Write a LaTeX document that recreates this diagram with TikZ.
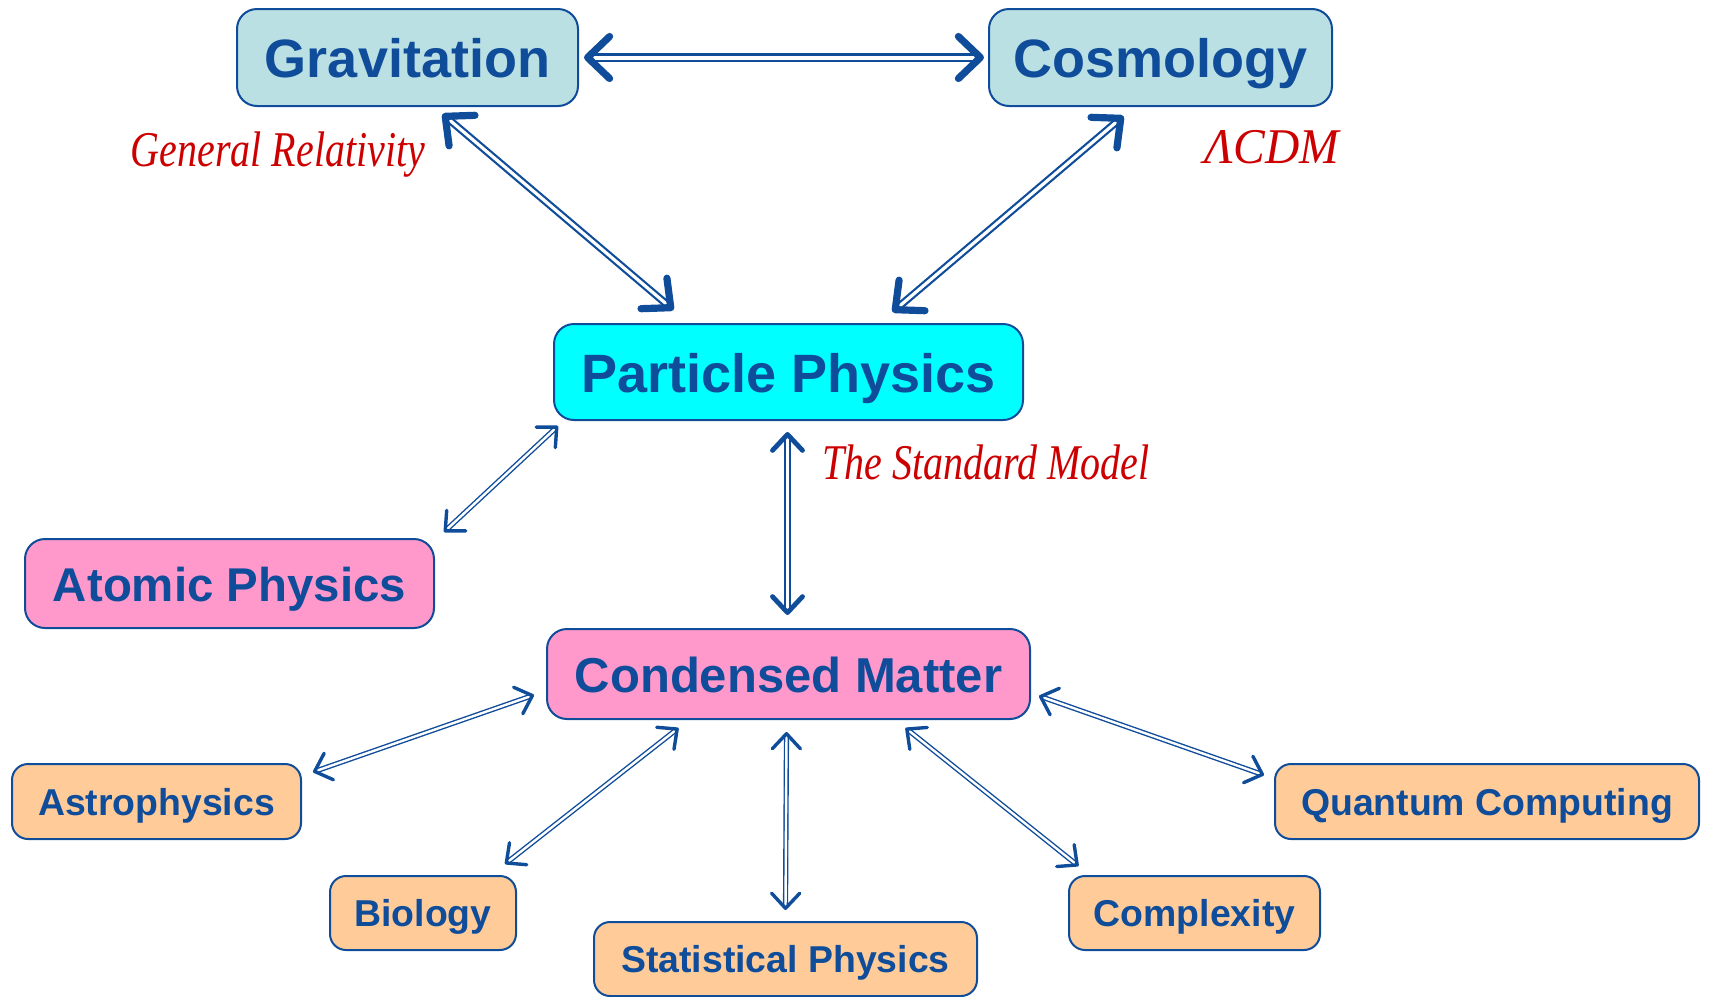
\documentclass[tikz,border=0pt]{standalone}
\usepackage{fontspec}
\setmainfont{Liberation Sans}
\newfontfamily\redfont[FakeStretch=0.8]{Liberation Serif}
\newfontfamily\redwidefont[FakeStretch=0.95]{Liberation Serif}
\usetikzlibrary{arrows.meta,calc}
\definecolor{dblue}{HTML}{0F4C9A}
\definecolor{lblue}{HTML}{BAE0E4}
\definecolor{pcyan}{HTML}{00FFFF}
\definecolor{ppink}{HTML}{FF99CC}
\definecolor{peach}{HTML}{FFCC99}
\definecolor{dred}{HTML}{CC0000}
\tikzset{
  box/.style={draw=dblue, line width=1pt, rounded corners=10pt, inner sep=0pt,
    text=dblue, text depth=0pt},
  bigbox/.style={box, font=\bfseries\fontsize{27pt}{32pt}\selectfont, minimum height=48.5pt, text height=20pt},
  midbox/.style={box, fill=ppink, minimum height=44.5pt},
  smallbox/.style={box, fill=peach, rounded corners=8pt, minimum height=37pt, text height=13.8pt,
    font=\bfseries\fontsize{18.7pt}{22pt}\selectfont},
  redlab/.style={text=dred, inner sep=0pt, font=\redfont\itshape\fontsize{25pt}{30pt}\selectfont},
  redlabw/.style={text=dred, inner sep=0pt, font=\redwidefont\itshape\fontsize{25pt}{30pt}\selectfont},
  bigarr/.style={draw=dblue, double=white, line width=1.3pt, double distance=2pt,
    arrows={Straight Barb[length=11pt,width=21pt,line width=3.6pt,round]-Straight Barb[length=11pt,width=21pt,line width=3.6pt,round]}},
  diagarr/.style={draw=dblue, double=white, line width=1.1pt, double distance=1.6pt,
    arrows={Straight Barb[length=11pt,width=20pt,line width=3.6pt,round]-Straight Barb[length=11pt,width=20pt,line width=3.6pt,round]}},
  medarr/.style={draw=dblue, double=white, line width=0.9pt, double distance=1.4pt,
    arrows={Straight Barb[length=8pt,width=15pt,line width=2.4pt,round]-Straight Barb[length=8pt,width=15pt,line width=2.4pt,round]}},
  thinarr/.style={draw=dblue, double=white, line width=0.7pt, double distance=1.2pt,
    arrows={Straight Barb[length=7.5pt,width=14pt,line width=1.7pt,round]-Straight Barb[length=7.5pt,width=14pt,line width=1.7pt,round]}},
}
\begin{document}
\begin{tikzpicture}[x=0.5pt,y=-0.5pt]
\useasboundingbox (0,0) rectangle (1710,997);

% main nodes
\node[bigbox, fill=lblue, minimum width=170.5pt] (grav) at (407.5,57.5) {Gravitation};
\node[bigbox, fill=lblue, minimum width=171.5pt] (cosmo) at (1160.5,57.5) {Cosmology};
\node[bigbox, fill=pcyan, minimum width=234.5pt, minimum height=48pt] (pp) at (788.5,372) {Particle Physics};
\node[midbox, minimum width=204.5pt, text height=17.5pt, font=\bfseries\fontsize{23.7pt}{28pt}\selectfont] (atomic) at (229.5,583.5) {Atomic Physics};
\node[midbox, minimum width=241.5pt, minimum height=45pt, text height=18.1pt, font=\bfseries\fontsize{24.5pt}{29pt}\selectfont] (cm) at (788.5,674) {Condensed Matter};

% small nodes
\node[smallbox, minimum width=144.5pt, minimum height=37.5pt] (astro) at (156.5,801.5) {Astrophysics};
\node[smallbox, minimum width=93pt] (bio) at (423,913) {Biology};
\node[smallbox, minimum width=191.5pt] (stat) at (785.5,959) {Statistical Physics};
\node[smallbox, minimum width=125.5pt] (cx) at (1194.5,913) {Complexity};
\node[smallbox, minimum width=212pt, minimum height=37.5pt] (qc) at (1487,801.5) {Quantum Computing};

% red labels
\node[redlab, anchor=base] (gr) at (278,166) {General Relativity};
\node[redlabw, anchor=base] (lcdm) at (1272,163) {ΛCDM};
\node[redlab, anchor=base] (sm) at (986,479) {The Standard Model};

% connectors
\draw[bigarr] ($(grav.east)+(5,0)$) -- ($(cosmo.west)+(-4,0)$);
\draw[diagarr] ($(grav.south)+(35,7)$) -- ($(pp.north)+(-115,-13)$);
\draw[diagarr] ($(cosmo.south)+(-37,9)$) -- ($(pp.north)+(104,-11)$);
\draw[thinarr] ($(pp.south west)+(5,5)$) -- ($(atomic.north east)+(9,-6)$);
\draw[medarr] ($(pp.south)+(-1,11)$) -- ($(cm.north)+(-1,-13)$);
\draw[thinarr] ($(cm.west)+(-12,21)$) -- ($(astro.north east)+(11,9)$);
\draw[thinarr] ($(cm.south)+(-110,8)$) -- ($(bio.north)+(82,-11)$);
\draw[thinarr] ($(cm.south)+(-2,12)$) -- ($(stat.north)+(0,-11)$);
\draw[thinarr] ($(cm.south)+(117,8)$) -- ($(cx.north)+(-116,-9)$);
\draw[thinarr] ($(cm.east)+(8,22)$) -- ($(qc.north west)+(-10,12)$);
\end{tikzpicture}
\end{document}
